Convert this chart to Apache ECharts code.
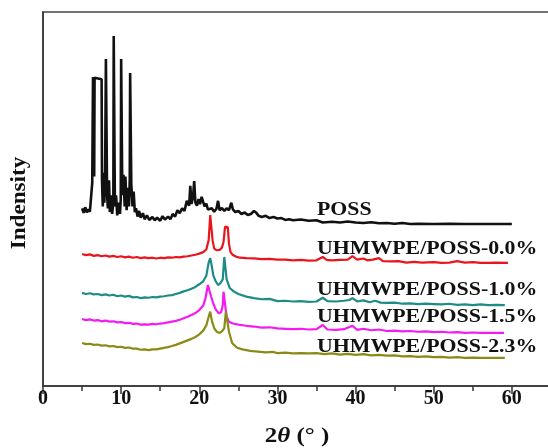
<!DOCTYPE html>
<html>
<head>
<meta charset="utf-8">
<script src="https://cdn.jsdelivr.net/npm/echarts@6/dist/echarts.min.js"></script>
<style>
  html, body { margin: 0; padding: 0; background: #fff; }
  #main { width: 548px; height: 448px; }
</style>
</head>
<body>
<div id="main"></div>
<script>
// XRD patterns, values: [2theta, intensity (a.u., offset for stacking)]
var poss = [
  [5.0,47.5],[5.2,46.3],[5.4,47.8],[5.6,46.4],[5.8,47.2],[6.0,46.6],[6.15,50.5],[6.3,54.3],[6.35,54.0],
  [6.4,82.6],[6.5,82.6],[6.55,56],[6.6,82.4],[7.5,82.0],[7.55,55],[7.65,48],[7.75,57],[7.85,49],[7.95,57],
  [8.05,87.4],[8.15,87.4],[8.2,51],[8.3,47.5],[8.45,55],[8.55,46.5],[8.7,51],[8.85,46],[9.0,49],
  [9.05,93.6],[9.15,93.6],[9.2,48],[9.35,51],[9.5,45.6],[9.7,49],[9.85,46],[9.95,50],
  [10.0,87.4],[10.1,87.4],[10.15,51],[10.3,56.5],[10.45,48],[10.55,56],[10.7,47],[10.85,53],[11.0,48],[11.1,55],
  [11.15,83.7],[11.25,83.7],[11.3,54],[11.45,48],[11.6,52],[11.75,46.5],[11.9,47.5],
  [12.1,45.3],[12.3,46.8],[12.5,45.0],[12.8,46.2],[13.0,44.6],[13.3,45.6],[13.6,44.4],[14.0,45.2],[14.3,44.3],
  [14.6,45.0],[15.0,44.2],[15.3,45.4],[15.6,44.5],[16.0,45.3],[16.3,44.6],[16.6,46.0],[16.9,45.3],[17.2,47.0],
  [17.5,46.2],[17.8,47.5],[18.1,46.8],[18.4,49.5],[18.7,48.2],[18.85,53.5],[19.0,48.7],[19.2,50.5],[19.35,54.8],
  [19.5,49.0],[19.7,48.2],[19.9,50.0],[20.1,48.6],[20.3,50.6],[20.5,49.2],[20.7,48.0],[20.9,48.8],[21.1,47.2],
  [21.3,46.8],[21.6,47.5],[21.9,46.6],[22.2,47.4],[22.4,49.5],[22.6,47.0],[22.9,47.6],[23.2,46.8],[23.5,47.5],
  [23.8,47.0],[24.1,49.0],[24.3,47.2],[24.6,46.5],[25.0,46.8],[25.4,46.0],[25.8,46.4],[26.2,45.7],[26.6,46.0],
  [27.0,46.8],[27.3,46.3],[27.6,45.5],[28.0,45.2],[28.5,45.5],[29.0,44.9],[29.5,45.2],[30.0,44.8],[30.5,44.9],
  [31.0,44.4],[31.5,44.6],[32.0,44.3],[33.0,44.5],[34.0,44.2],[35.0,44.3],[35.8,43.7],[37.0,43.9],[38.0,43.7],
  [39.0,44.0],[40.0,43.7],[41.0,43.6],[42.0,43.8],[43.0,43.5],[44.0,43.6],[45.0,43.4],[46.0,43.6],[47.0,43.3],
  [48.0,43.4],[50.0,43.3],[52.0,43.4],[54.0,43.3],[56.0,43.3],[58.0,43.3],[60.0,43.3]
];

var pe00 = [
  [5.0,35.3],[5.5,35.0],[6.0,35.2],[6.5,34.8],[7.0,35.0],[7.5,34.7],[8.0,34.9],[8.5,34.6],[9.0,34.8],[9.5,34.5],
  [10.0,34.7],[10.5,34.4],[11.0,34.6],[11.5,34.3],[12.0,34.5],[12.5,34.2],[13.0,34.4],[13.5,34.2],[14.0,34.3],
  [14.5,34.1],[15.0,34.3],[15.5,34.2],[16.0,34.4],[16.5,34.3],[17.0,34.5],[17.5,34.4],[18.0,34.6],[18.5,34.7],
  [19.0,34.9],[19.5,35.1],[20.0,35.4],[20.5,35.8],[20.9,36.5],[21.2,39],[21.4,45.7],[21.55,45.4],[21.7,39],
  [21.9,36.8],[22.2,36.3],[22.6,36.4],[22.9,37.0],[23.1,38.5],[23.3,42.6],[23.5,43.0],[23.65,42.4],[23.8,38],
  [24.0,35.8],[24.3,35.0],[24.7,34.6],[25.2,34.3],[26.0,34.2],[27.0,34.1],[28.0,33.9],[29.0,34.0],[30.0,33.8],
  [31.0,33.8],[32.0,33.6],[33.0,33.7],[34.0,33.5],[35.0,33.6],[35.8,34.5],[36.3,33.7],[37.0,33.6],[38.0,33.7],
  [39.0,33.8],[39.6,34.7],[40.2,33.8],[41.0,34.1],[41.5,33.6],[42.2,33.8],[43.0,34.2],[43.5,33.4],[44.5,33.3],
  [45.5,33.4],[46.5,33.0],[47.5,33.2],[48.5,33.0],[50.0,33.1],[51.0,32.9],[52.0,33.0],[53.0,33.4],[54.0,33.0],
  [55.0,33.1],[56.0,32.9],[57.0,32.9],[58.0,33.0],[59.5,32.9]
];

var pe10 = [
  [5.0,24.9],[5.5,24.6],[6.0,24.8],[6.5,24.5],[7.0,24.6],[7.5,24.3],[8.0,24.5],[8.5,24.2],[9.0,24.4],[9.5,24.0],
  [10.0,24.2],[10.5,23.9],[11.0,24.1],[11.5,23.7],[12.0,23.8],[12.5,23.5],[13.0,23.7],[13.5,23.6],[14.0,23.8],
  [14.5,23.7],[15.0,23.9],[15.5,24.0],[16.0,24.2],[16.5,24.3],[17.0,24.6],[17.5,24.9],[18.0,25.3],[18.5,25.6],
  [19.0,26.0],[19.5,26.5],[20.0,27.2],[20.5,28.0],[20.9,29.5],[21.2,33],[21.4,34.2],[21.6,32],[21.8,29.5],
  [22.1,28.0],[22.4,27.0],[22.7,27.5],[23.0,28.5],[23.2,34.5],[23.35,34.3],[23.5,28.5],[23.9,26.2],[24.4,25.3],
  [25.0,24.6],[26.0,23.9],[27.0,23.5],[28.0,23.2],[29.0,23.3],[30.0,22.7],[31.0,22.8],[32.0,22.6],[33.0,22.7],
  [34.0,22.5],[35.0,22.6],[35.8,23.6],[36.4,22.7],[37.5,22.6],[38.5,22.8],[39.2,23.0],[39.6,23.5],[40.2,22.6],
  [41.0,22.9],[41.8,22.4],[42.5,22.8],[43.2,22.3],[44.0,22.2],[45.0,22.3],[46.0,22.0],[47.0,22.1],[48.0,21.9],
  [49.0,22.0],[50.0,21.9],[51.0,21.8],[52.0,22.0],[53.0,21.7],[54.0,21.8],[55.0,21.6],[56.0,21.8],[57.0,21.6],
  [58.0,21.7],[59.1,21.6]
];

var pe15 = [
  [5.0,17.9],[5.5,17.6],[6.0,17.8],[6.5,17.5],[7.0,17.6],[7.5,17.3],[8.0,17.5],[8.5,17.2],[9.0,17.3],[9.5,17.0],
  [10.0,17.1],[10.5,16.8],[11.0,16.9],[11.5,16.6],[12.0,16.7],[12.5,16.4],[13.0,16.5],[13.5,16.4],[14.0,16.6],
  [14.5,16.5],[15.0,16.7],[15.5,16.8],[16.0,17.0],[16.5,17.2],[17.0,17.4],[17.5,17.7],[18.0,18.1],[18.5,18.5],
  [19.0,19.0],[19.5,19.5],[20.0,20.3],[20.5,21.5],[20.8,23.5],[21.1,27.0],[21.3,26.5],[21.5,24.0],[21.8,22.0],
  [22.1,20.5],[22.5,19.4],[22.8,19.8],[23.0,21.5],[23.1,25.2],[23.3,25.0],[23.5,18.5],[23.8,17.2],[24.3,16.7],
  [25.0,16.4],[26.0,16.1],[27.0,15.9],[28.0,15.6],[29.0,15.7],[30.0,15.4],[31.0,15.3],[32.0,15.2],[33.0,15.3],
  [34.0,15.1],[35.0,15.2],[35.8,16.3],[36.4,15.1],[37.5,15.0],[38.5,15.2],[39.6,16.1],[40.2,15.0],[41.0,15.3],
  [42.0,14.9],[43.0,15.1],[44.0,14.7],[45.0,14.8],[46.0,14.6],[47.0,14.7],[48.0,14.5],[49.0,14.6],[50.0,14.4],
  [51.0,14.5],[52.0,14.3],[53.0,14.4],[54.0,14.2],[55.0,14.3],[56.0,14.2],[57.0,14.2],[59.0,14.2]
];

var pe23 = [
  [5.0,11.5],[5.5,11.2],[6.0,11.3],[6.5,11.0],[7.0,11.1],[7.5,10.8],[8.0,10.9],[8.5,10.6],[9.0,10.7],[9.5,10.4],
  [10.0,10.5],[10.5,10.2],[11.0,10.3],[11.5,10.0],[12.0,10.0],[12.5,9.7],[13.0,9.8],[13.5,9.6],[14.0,9.8],
  [14.5,9.8],[15.0,10.0],[15.5,10.2],[16.0,10.4],[16.5,10.7],[17.0,11.0],[17.5,11.4],[18.0,11.8],[18.5,12.2],
  [19.0,12.6],[19.5,13.1],[20.0,13.8],[20.5,14.8],[20.9,16.2],[21.2,18.5],[21.4,19.9],[21.6,17.5],[21.9,15.5],
  [22.2,14.6],[22.6,14.2],[22.9,14.6],[23.2,15.5],[23.4,19.9],[23.6,19.5],[23.8,14.5],[24.2,11.5],[24.8,10.3],
  [25.5,9.8],[26.5,9.4],[27.5,9.2],[28.5,9.0],[29.5,9.1],[30.0,8.8],[31.0,8.9],[32.0,8.7],[33.0,8.8],[34.0,8.7],
  [35.0,8.8],[36.0,8.5],[37.0,8.7],[38.0,8.4],[39.0,8.6],[40.0,8.3],[41.0,8.5],[42.0,8.2],[43.0,8.3],[44.0,8.1],
  [45.0,8.2],[46.0,7.9],[47.0,8.0],[48.0,7.8],[49.0,7.9],[50.0,7.7],[51.0,7.8],[52.0,7.6],[53.0,7.7],[54.0,7.5],
  [55.0,7.6],[56.0,7.5],[57.0,7.5],[59.1,7.5]
];

var names = ['POSS', 'UHMWPE/POSS-0.0%', 'UHMWPE/POSS-1.0%', 'UHMWPE/POSS-1.5%', 'UHMWPE/POSS-2.3%'];
var colors = ['#111111', '#e8161c', '#1d8c86', '#f21cf2', '#8a8a16'];
var xTicks = [0, 10, 20, 30, 40, 50, 60];

var serif = '"Liberation Serif", "Times New Roman", serif';
var allData = [poss, pe00, pe10, pe15, pe23];
// label rows (pixel centre y), same order as names
var labelTop = [210, 249, 290, 317, 347];

var series = [];
for (var i = 0; i < allData.length; i++) {
  series.push({
    name: names[i],
    type: 'line',
    data: allData[i],
    showSymbol: false,
    symbol: 'none',
    animation: false,
    lineStyle: { color: colors[i], width: i === 0 ? 2.6 : 2.2 }
  });
}

var graphics = [];
for (var j = 0; j < names.length; j++) {
  graphics.push({
    type: 'text',
    x: 317, y: labelTop[j],
    scaleX: 1.15,
    style: {
      text: names[j],
      font: 'bold 19px ' + serif,
      fill: '#111',
      align: 'left',
      verticalAlign: 'middle'
    }
  });
}
graphics.push({
  type: 'text',
  x: 20, y: 203,
  rotation: Math.PI / 2,
  scaleX: 1.1,
  style: {
    text: 'Indensity',
    font: 'bold 21px ' + serif,
    fill: '#111',
    align: 'center',
    verticalAlign: 'middle'
  }
});
graphics.push({
  type: 'text',
  x: 297, y: 437,
  scaleX: 1.25,
  style: {
    text: '{b|2}{i|θ}{b| (° )}',
    align: 'center',
    verticalAlign: 'middle',
    rich: {
      b: { font: 'bold 20px ' + serif, fill: '#111' },
      i: { font: 'italic bold 20px ' + serif, fill: '#111' }
    }
  }
});

var myChart = echarts.init(document.getElementById('main'));
var option = {
  backgroundColor: '#ffffff',
  animation: false,
  textStyle: { fontFamily: serif },
  grid: {
    left: 43, top: 12, width: 547, height: 374,
    outerBoundsMode: 'none',
    show: true, borderColor: '#444', borderWidth: 1.5, backgroundColor: 'transparent'
  },
  xAxis: {
    type: 'value',
    min: 0, max: 70, interval: 10,
    axisLine: { lineStyle: { color: '#333', width: 1.5 } },
    axisTick: { show: true, inside: false, length: 8, lineStyle: { color: '#333', width: 1.5 } },
    minorTick: { show: true, splitNumber: 2, length: 5, lineStyle: { color: '#333', width: 1.5 } },
    axisLabel: {
      margin: 3,
      fontFamily: serif,
      fontWeight: 'bold',
      fontSize: 20,
      color: '#111',
      formatter: function (v) { return xTicks.indexOf(v) >= 0 ? String(v) : ''; }
    },
    splitLine: { show: false }
  },
  yAxis: {
    type: 'value',
    min: 0, max: 100,
    axisLine: { show: true, lineStyle: { color: '#333', width: 1.5 } },
    axisTick: { show: false },
    axisLabel: { show: false },
    splitLine: { show: false }
  },
  graphic: graphics,
  series: series
};
myChart.setOption(option);
</script>
</body>
</html>
